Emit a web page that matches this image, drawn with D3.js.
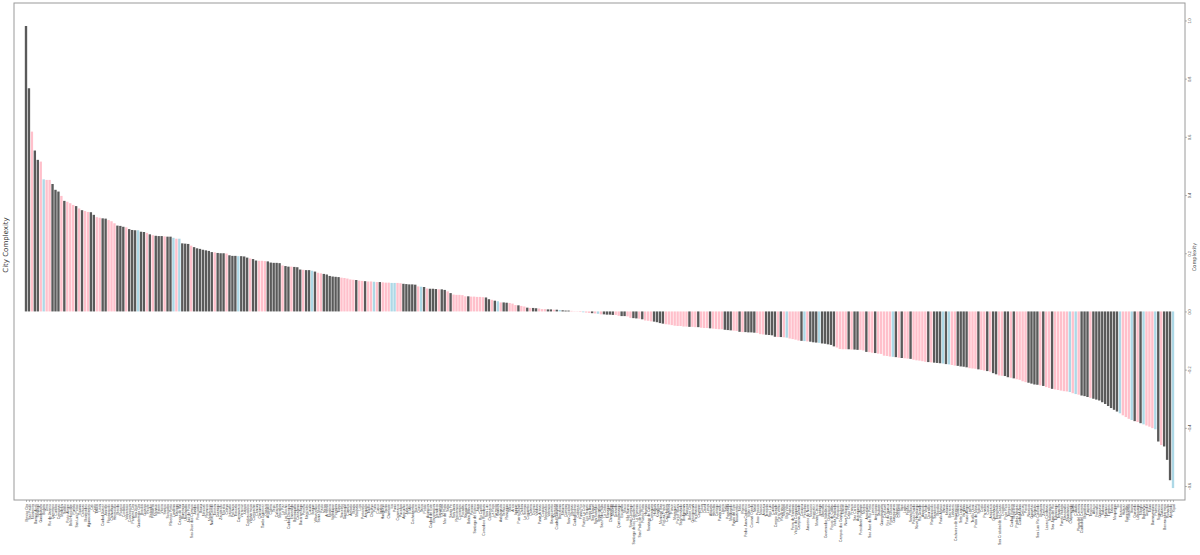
<!DOCTYPE html>
<html>
<head>
<meta charset="utf-8">
<script src="https://cdn.jsdelivr.net/npm/d3@7"></script>
<style>
  body { margin: 0; background: #fff; }
  svg { display: block; font-family: "DejaVu Sans", sans-serif; }
</style>
</head>
<body>
<svg width="1200" height="555"></svg>
<script>
// Cities, sorted by complexity (descending)
var cities = [
  "Mexico City","Sao Paulo","Monterrey","Buenos Aires","Santiago","Guadalajara","Bogota","Lima","Rio de Janeiro","Queretaro",
  "Curitiba","Campinas","Medellin","Saltillo","Porto Alegre","Belo Horizonte","Puebla","San Luis Potosi","Tijuana","Caracas",
  "Montevideo","Aguascalientes","Cali","Quito","Toluca","Leon","Ciudad Juarez","Joinville","Florianopolis","Chihuahua",
  "Hermosillo","Merida","Rosario","Cordoba","Valparaiso","Concepcion","Panama City","San Jose","Guatemala City","Brasilia",
  "Goiania","Recife","Salvador","Fortaleza","Manaus","Belem","Vitoria","Santos","Sorocaba","Ribeirao Preto",
  "Londrina","Maringa","Caxias do Sul","Blumenau","Uberlandia","Juiz de Fora","Sao Jose dos Campos","Jundiai","Piracicaba","Bauru",
  "Mexicali","Reynosa","Matamoros","Nuevo Laredo","Torreon","Durango","Zacatecas","Morelia","Celaya","Irapuato",
  "Pachuca","Tlaxcala","Cuernavaca","Veracruz","Xalapa","Coatzacoalcos","Villahermosa","Campeche","Cancun","Chetumal",
  "Tuxtla Gutierrez","Oaxaca","Acapulco","Colima","Tepic","Culiacan","Mazatlan","La Paz","Los Mochis","Ciudad Obregon",
  "Ensenada","Barranquilla","Cartagena","Bucaramanga","Pereira","Manizales","Cucuta","Ibague","Villavicencio","Santa Marta",
  "Pasto","Neiva","Armenia","Monteria","Valledupar","Popayan","Tunja","Sincelejo","Guayaquil","Cuenca",
  "Ambato","Manta","Machala","Loja","Portoviejo","Arequipa","Trujillo","Chiclayo","Piura","Cusco",
  "Iquitos","Huancayo","Tacna","Chimbote","Ica","Puno","Cajamarca","Pucallpa","Ayacucho","Juliaca",
  "El Alto","Cochabamba","Sucre","Oruro","Tarija","Potosi","Asuncion","Ciudad del Este","Encarnacion","Mendoza",
  "Tucuman","La Plata","Mar del Plata","Salta","Santa Fe","San Juan","Resistencia","Corrientes","Posadas","Neuquen",
  "Bahia Blanca","Parana","Santiago del Estero","Jujuy","Rio Cuarto","Comodoro Rivadavia","San Luis","Catamarca","La Rioja","Formosa",
  "Rawson","Antofagasta","Temuco","Rancagua","Talca","Arica","Iquique","Puerto Montt","Chillan","La Serena",
  "Coquimbo","Calama","Osorno","Valdivia","Punta Arenas","Copiapo","Maracaibo","Valencia","Barquisimeto","Maracay",
  "Ciudad Guayana","Barcelona","Maturin","Cumana","San Cristobal","Barinas","Ciudad Bolivar","Cabimas","Punto Fijo","Puerto La Cruz",
  "Los Teques","Santa Ana","San Miguel","San Salvador","Tegucigalpa","San Pedro Sula","La Ceiba","Managua","Chinandega","Masaya",
  "Granada","Quetzaltenango","Escuintla","Mixco","Villa Nueva","Santo Domingo","Santiago de los Caballeros","La Romana","San Pedro de Macoris","Puerto Plata",
  "Havana","Santiago de Cuba","Camaguey","Holguin","Kingston","Montego Bay","Port-au-Prince","Cap-Haitien","Bayamon","Ponce",
  "Mayaguez","Port of Spain","San Fernando","Bridgetown","Nassau","Belize City","Georgetown","Paramaribo","Cayenne","Colon",
  "David","Limon","Alajuela","Heredia","Cartago","Puntarenas","Liberia","Salto","Paysandu","Maldonado",
  "Punta del Este","Tacuarembo","Melo","Rivera","Pedro Juan Caballero","Villarrica","Coronel Oviedo","Natal","Joao Pessoa","Maceio",
  "Aracaju","Teresina","Sao Luis","Cuiaba","Campo Grande","Porto Velho","Rio Branco","Macapa","Boa Vista","Palmas",
  "Feira de Santana","Vitoria da Conquista","Campina Grande","Caruaru","Petrolina","Juazeiro do Norte","Mossoro","Imperatriz","Montes Claros","Ipatinga",
  "Uberaba","Governador Valadares","Divinopolis","Pocos de Caldas","Volta Redonda","Petropolis","Campos dos Goytacazes","Macae","Nova Friburgo","Cabo Frio",
  "Franca","Sao Carlos","Araraquara","Presidente Prudente","Marilia","Aracatuba","Sao Jose do Rio Preto","Limeira","Americana","Taubate",
  "Guaratingueta","Cascavel","Foz do Iguacu","Ponta Grossa","Guarapuava","Chapeco","Criciuma","Itajai","Lages","Pelotas",
  "Santa Maria","Passo Fundo","Novo Hamburgo","Rio Grande","Anapolis","Rio Verde","Dourados","Rondonopolis","Santarem","Maraba",
  "Paulo Afonso","Ilheus","Itabuna","Barreiras","Linhares","Cachoeiro de Itapemirim","Colatina","Sete Lagoas","Varginha","Pouso Alegre",
  "Lavras","Teofilo Otoni","Patos de Minas","Sobral","Crato","Parnaiba","Caxias","Arapiraca","Garanhuns","Tapachula",
  "San Cristobal de las Casas","Orizaba","Poza Rica","Tampico","Ciudad Victoria","Monclova","Piedras Negras","Ciudad Acuna","Delicias","Parral",
  "Navojoa","Guaymas","Nogales","San Luis Rio Colorado","Uruapan","Zamora","Lazaro Cardenas","Salamanca","San Juan del Rio","Tulancingo",
  "Tehuacan","Puerto Vallarta","Manzanillo","Zihuatanejo","Chilpancingo","Iguala","Cuautla","Playa del Carmen","Ciudad del Carmen","Minatitlan",
  "Tuxpan","Texcoco","Atlixco","Fresnillo","Guasave","Sullana","Huanuco","Tumbes","Talara","Moquegua",
  "Ilo","Tarapoto","Huaraz","Esmeraldas","Riobamba","Ibarra","Quevedo","Latacunga","Milagro","Babahoyo",
  "Girardot","Tulua","Buenaventura","Palmira","Sogamoso","Duitama","Barrancabermeja","Riohacha","Apartado","Yopal"
];

// Complexity value per city
var complexity = [
  0.981,0.767,0.618,0.553,0.521,0.515,0.454,0.452,0.452,0.438,
  0.418,0.412,0.397,0.380,0.377,0.372,0.366,0.362,0.354,0.348,
  0.345,0.342,0.341,0.332,0.324,0.322,0.320,0.319,0.314,0.310,
  0.303,0.295,0.294,0.291,0.289,0.283,0.280,0.279,0.279,0.274,
  0.273,0.270,0.265,0.262,0.260,0.259,0.259,0.258,0.257,0.257,
  0.253,0.250,0.250,0.234,0.233,0.232,0.226,0.221,0.217,0.215,
  0.212,0.210,0.208,0.204,0.203,0.201,0.200,0.200,0.199,0.193,
  0.191,0.191,0.190,0.190,0.189,0.185,0.182,0.180,0.175,0.174,
  0.174,0.173,0.172,0.168,0.167,0.167,0.166,0.158,0.156,0.154,
  0.154,0.153,0.152,0.144,0.143,0.142,0.142,0.140,0.137,0.133,
  0.131,0.129,0.127,0.122,0.120,0.119,0.118,0.116,0.115,0.113,
  0.110,0.109,0.108,0.106,0.105,0.104,0.103,0.103,0.102,0.101,
  0.101,0.100,0.099,0.099,0.098,0.098,0.098,0.097,0.095,0.094,
  0.093,0.093,0.092,0.086,0.085,0.084,0.079,0.078,0.078,0.077,
  0.076,0.076,0.074,0.069,0.063,0.058,0.057,0.057,0.056,0.052,
  0.052,0.051,0.051,0.050,0.050,0.049,0.048,0.042,0.040,0.037,
  0.035,0.031,0.031,0.030,0.029,0.027,0.022,0.021,0.019,0.017,
  0.013,0.012,0.012,0.011,0.010,0.008,0.008,0.007,0.007,0.006,
  0.006,0.005,0.004,0.003,0.003,0.002,0.001,-0.001,-0.002,-0.003,
  -0.004,-0.005,-0.006,-0.007,-0.008,-0.010,-0.010,-0.011,-0.011,-0.012,
  -0.012,-0.015,-0.016,-0.016,-0.017,-0.022,-0.023,-0.024,-0.025,-0.027,
  -0.031,-0.032,-0.034,-0.035,-0.037,-0.040,-0.042,-0.044,-0.045,-0.047,
  -0.049,-0.050,-0.050,-0.052,-0.052,-0.053,-0.053,-0.054,-0.054,-0.056,
  -0.057,-0.057,-0.058,-0.059,-0.060,-0.061,-0.061,-0.063,-0.064,-0.065,
  -0.066,-0.067,-0.070,-0.071,-0.071,-0.072,-0.072,-0.073,-0.074,-0.078,
  -0.079,-0.080,-0.081,-0.082,-0.087,-0.088,-0.088,-0.089,-0.090,-0.093,
  -0.095,-0.097,-0.100,-0.101,-0.102,-0.103,-0.104,-0.106,-0.107,-0.108,
  -0.110,-0.111,-0.113,-0.115,-0.120,-0.124,-0.129,-0.130,-0.130,-0.130,
  -0.131,-0.131,-0.132,-0.132,-0.134,-0.139,-0.140,-0.142,-0.143,-0.145,
  -0.146,-0.152,-0.153,-0.155,-0.156,-0.157,-0.159,-0.160,-0.161,-0.162,
  -0.163,-0.166,-0.168,-0.169,-0.171,-0.173,-0.174,-0.175,-0.176,-0.177,
  -0.178,-0.179,-0.181,-0.182,-0.184,-0.186,-0.187,-0.189,-0.190,-0.192,
  -0.195,-0.196,-0.197,-0.199,-0.201,-0.203,-0.205,-0.207,-0.212,-0.216,
  -0.220,-0.221,-0.222,-0.226,-0.228,-0.230,-0.233,-0.235,-0.240,-0.243,
  -0.245,-0.248,-0.251,-0.252,-0.254,-0.256,-0.260,-0.263,-0.266,-0.268,
  -0.270,-0.272,-0.274,-0.275,-0.277,-0.281,-0.284,-0.286,-0.289,-0.291,
  -0.294,-0.297,-0.300,-0.303,-0.306,-0.312,-0.318,-0.325,-0.332,-0.338,
  -0.344,-0.350,-0.357,-0.363,-0.369,-0.373,-0.377,-0.380,-0.384,-0.388,
  -0.392,-0.396,-0.401,-0.405,-0.447,-0.459,-0.464,-0.510,-0.580,-0.607
];

// Group of each city: d = dark, p = pink, b = blue
var groups = (
  "ddpddpbppd" + "ddpdpppdpd" + "ppddppddpp" + "pdddpdddbd" + "dpdpdddpdd" +
  "bpbdddpddd" + "ddddpdddpd" + "ddbdddpddp" + "ppdddddpdd" + "pdddpddbdp" +
  "pddddddppp" + "ppdppdppbp" + "dpppbbppdd" + "dddpbdpddd" + "pddpdppppp" +
  "dpppppddpd" + "bpddpppdpp" + "dpddpppddp" + "dbdddppppb" + "ppdpbpdddd" +
  "ppddppddpd" + "pppddddppp" + "pppppdppdp" + "ppdppppddd" + "ppdpddddpp" +
  "pddddpdpbp" + "pppdbpdddb" + "dddddppppd" + "pddppdppdp" + "ppppbdpdpp" +
  "dpppppdpdd" + "dbdbppdddd" + "pppdppdpdd" + "ppddpdpppp" + "ddddpdppdp" +
  "ppppbpbpdd" + "dpdddddddd" + "dbpppbdpdb" + "pppbdpdddb"
).split("");

var groupColors = { d: "#5a5a5a", p: "#ffc0cb", b: "#add8e6" };
var yTicks = [-0.6, -0.4, -0.2, 0.0, 0.2, 0.4, 0.6, 0.8, 1.0];

var margin = { left: 14, right: 15, top: 3, bottom: 55 }
  , width = 1200
  , height = 555
  , svg = d3.select("svg")
;

var data = complexity.map(function(v, i) {
  return { i: i, city: cities[i], value: v, group: groups[i] };
});

// Scales
var x = d3.scalePoint()
    .domain(d3.range(data.length))
    .range([26, 1173])
  , barW = x.step() * 0.8
  , y = d3.scaleLinear()
    .domain([-0.648, 1.06])
    .range([height - margin.bottom, margin.top])
;

// Bars
svg.append("g")
  .selectAll("rect")
  .data(data)
  .enter().append("rect")
    .attr("x", function(d) { return x(d.i) - barW / 2; })
    .attr("width", barW)
    .attr("y", function(d) { return y(Math.max(0, d.value)); })
    .attr("height", function(d) { return Math.abs(y(d.value) - y(0)); })
    .attr("fill", function(d) { return groupColors[d.group]; });

// Frame
svg.append("rect")
  .attr("x", margin.left)
  .attr("y", margin.top)
  .attr("width", width - margin.left - margin.right)
  .attr("height", height - margin.top - margin.bottom)
  .attr("fill", "none")
  .attr("stroke", "#9a9a9a")
  .attr("stroke-width", 1);

// X axis with rotated city names
var xAxisG = svg.append("g")
  .attr("transform", "translate(0," + (height - margin.bottom) + ")")
  .call(d3.axisBottom(x).tickSize(2).tickFormat(function(i) { return cities[i]; }));
xAxisG.select(".domain").remove();
xAxisG.selectAll(".tick line").attr("stroke", "#777").attr("stroke-width", 0.5);
xAxisG.selectAll(".tick text")
  .attr("font-size", 3.4)
  .attr("fill", "#333")
  .attr("text-anchor", "end")
  .attr("transform", "rotate(-90)")
  .attr("x", -4)
  .attr("y", 0)
  .attr("dy", "0.35em");

// Right y axis
var yAxisG = svg.append("g")
  .attr("transform", "translate(" + (width - margin.right) + ",0)")
  .call(d3.axisRight(y).tickValues(yTicks).tickSize(2).tickFormat(d3.format(".1f")));
yAxisG.select(".domain").remove();
yAxisG.selectAll(".tick line").attr("stroke", "#777").attr("stroke-width", 0.5);
yAxisG.selectAll(".tick text")
  .attr("font-size", 3.8)
  .attr("fill", "#444")
  .attr("text-anchor", "middle")
  .attr("transform", "rotate(-90)")
  .attr("x", 0)
  .attr("y", 5)
  .attr("dy", "0.35em");

// Axis titles
svg.append("text")
  .attr("transform", "translate(8,245) rotate(-90)")
  .attr("text-anchor", "middle")
  .attr("font-size", 7)
  .attr("fill", "#333")
  .text("City Complexity");

svg.append("text")
  .attr("transform", "translate(1196,257) rotate(-90)")
  .attr("text-anchor", "middle")
  .attr("font-size", 5)
  .attr("fill", "#444")
  .text("Complexity");
</script>
</body>
</html>
